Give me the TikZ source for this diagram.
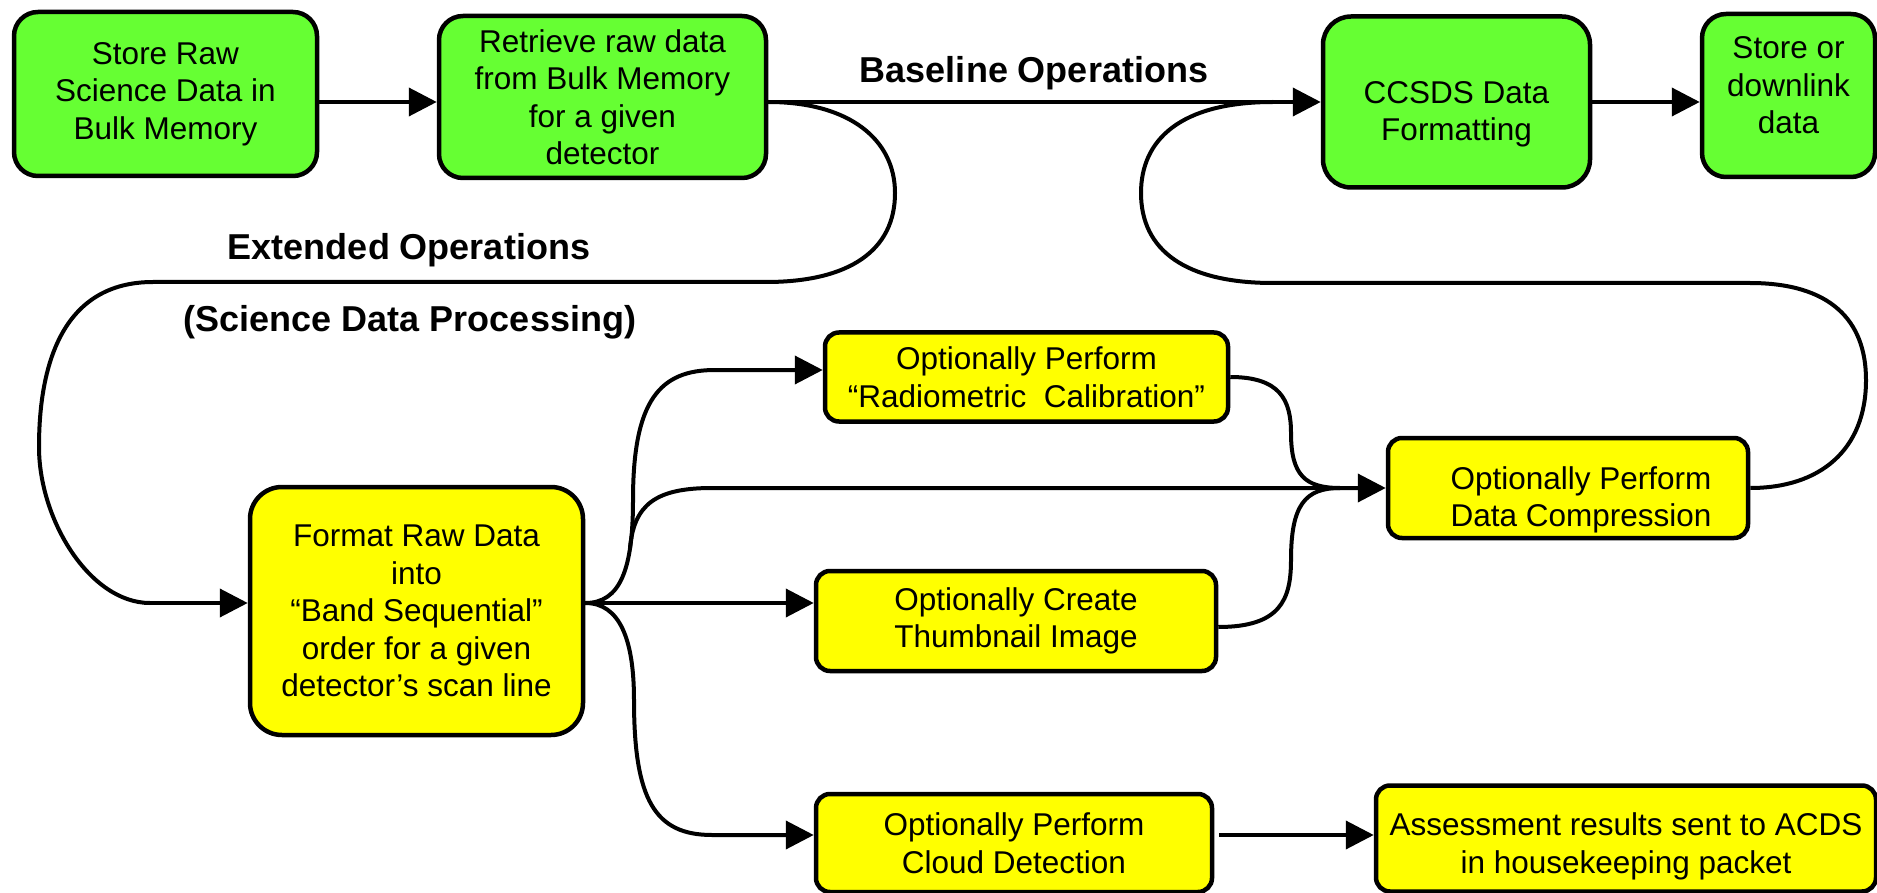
\documentclass[tikz,border=0pt]{standalone}
\usepackage{fontspec}
\setmainfont{Liberation Sans}
\usetikzlibrary{arrows.meta}

\definecolor{procgreen}{HTML}{66FF33}
\definecolor{procyellow}{HTML}{FFFF00}

\begin{document}
\begin{tikzpicture}[x=1pt,y=-1pt,
  box/.style={draw=black, line width=4.5pt, align=center, inner sep=0pt,
    font=\fontsize{31.5}{37.5}\selectfont},
  gbox/.style={box, fill=procgreen, rounded corners=24pt},
  ybox/.style={box, fill=procyellow, rounded corners=14pt},
  heading/.style={font=\fontsize{36}{42}\selectfont\bfseries, inner sep=0pt},
  conn/.style={draw=black, line width=4pt},
  arr/.style={conn, -{Triangle[length=28pt,width=28pt]}}
]
\useasboundingbox (0,0) rectangle (1877,893);

% ---- baseline chain (green) ----
\node[gbox, minimum width=303pt, minimum height=164pt] (raw) at (165.5,94)
  {Store Raw\\Science Data in\\Bulk Memory};
\node[gbox, minimum width=327pt, minimum height=162pt] (ret) at (602.5,97)
  {Retrieve raw data\\from Bulk Memory\\for a given\\detector};
\node[gbox, rounded corners=28pt, minimum width=267pt, minimum height=171pt] (ccsds) at (1456.5,102)
  {\rule{0pt}{47pt}CCSDS Data\\Formatting};
\node[gbox, minimum width=173pt, minimum height=163pt] (out) at (1788.5,95.5)
  {Store or\\downlink\\data\rule[-20pt]{0pt}{20pt}};

% ---- extended processing (yellow) ----
\node[ybox, rounded corners=32pt, minimum width=333pt, minimum height=248pt] (fmt) at (416.5,611)
  {Format Raw Data\\into\\“Band Sequential”\\order for a given\\detector’s scan line};
\node[ybox, minimum width=403pt, minimum height=89pt] (rad) at (1026.5,377)
  {Optionally Perform\\“Radiometric\ \ Calibration”};
\node[ybox, minimum width=400pt, minimum height=100pt] (thumb) at (1016,621)
  {Optionally Create\\Thumbnail Image};
\node[ybox, minimum width=360pt, minimum height=100pt] (dc) at (1568,488)
  {\rule{0pt}{47pt}\hspace*{26pt}Optionally Perform\\\hspace*{26pt}Data Compression};
\node[ybox, minimum width=396pt, minimum height=98pt] (cloud) at (1014,843)
  {Optionally Perform\\Cloud Detection};
\node[ybox, minimum width=500pt, minimum height=106pt] (acds) at (1626,838.5)
  {\rule{0pt}{39pt}Assessment results sent to ACDS\\in housekeeping packet};

% ---- headings ----
\node[heading] (base) at (1034,73.5) {Baseline Operations};
\node[heading] (ext) at (409,250.5) {Extended Operations};
\node[heading] (sci) at (410,322.5) {(Science Data Processing)};

% ---- top row arrows ----
\draw[arr] ([yshift=-8pt]raw.east) -- ([yshift=-5pt]ret.west);
\draw[arr] ([yshift=-5pt]ret.east) -- (ccsds.west);
\draw[arr] (ccsds.east) -- ([yshift=-6.5pt]out.west);

% ---- loop from retrieval down into the formatting step ----
\coordinate (l1end) at (150,603);
\draw[conn] ([yshift=-5pt]ret.east)
  .. controls (850,102) and (895,140) .. (895,193)
  .. controls (895,250) and (850,282) .. (766,282)
  -- (153,282)
  .. controls (65,282) and (39,360) .. (39,447)
  .. controls (39,520) and (90,603) .. (l1end);
\draw[arr] (l1end) -- ([yshift=8pt]fmt.west);

% ---- loop from compression back up to CCSDS formatting ----
\coordinate (l2end) at (1273,102);
\draw[conn] (dc.east)
  .. controls (1820,488) and (1866,450) .. (1866,380)
  .. controls (1866,320) and (1830,283) .. (1750,283)
  -- (1273,283)
  .. controls (1185,283) and (1141,250) .. (1141,193)
  .. controls (1141,140) and (1180,102) .. (l2end);

% ---- branches out of the formatting step ----
\coordinate (split) at (630,548);
\draw[arr] ([yshift=8pt]fmt.east)
  .. controls (620,603) and (633,570) .. (633,500)
  .. controls (633,400) and (660,370) .. (715,370)
  -- ([yshift=7pt]rad.west);
\draw[arr] (split)
  .. controls (634,505) and (655,488) .. (712,488)
  -- (dc.west);
\draw[arr] ([yshift=8pt]fmt.east) -- ([yshift=18pt]thumb.west);
\draw[arr] ([yshift=8pt]fmt.east)
  .. controls (620,603) and (634,640) .. (634,700)
  .. controls (634,800) and (655,835) .. (712,835)
  -- ([yshift=8pt]cloud.west);

% ---- merges into the compression input ----
\coordinate (merge) at (1340,488);
\draw[conn] (rad.east)
  .. controls (1280,377) and (1291,400) .. (1291,433)
  .. controls (1291,475) and (1305,488) .. (merge);
\draw[conn] ([yshift=-6pt]thumb.east)
  .. controls (1280,627) and (1291,600) .. (1291,560)
  .. controls (1291,505) and (1305,488) .. (merge);

% ---- cloud detection result ----
\draw[arr] ([xshift=5pt,yshift=8pt]cloud.east) -- ([yshift=3.5pt]acds.west);
\end{tikzpicture}
\end{document}
